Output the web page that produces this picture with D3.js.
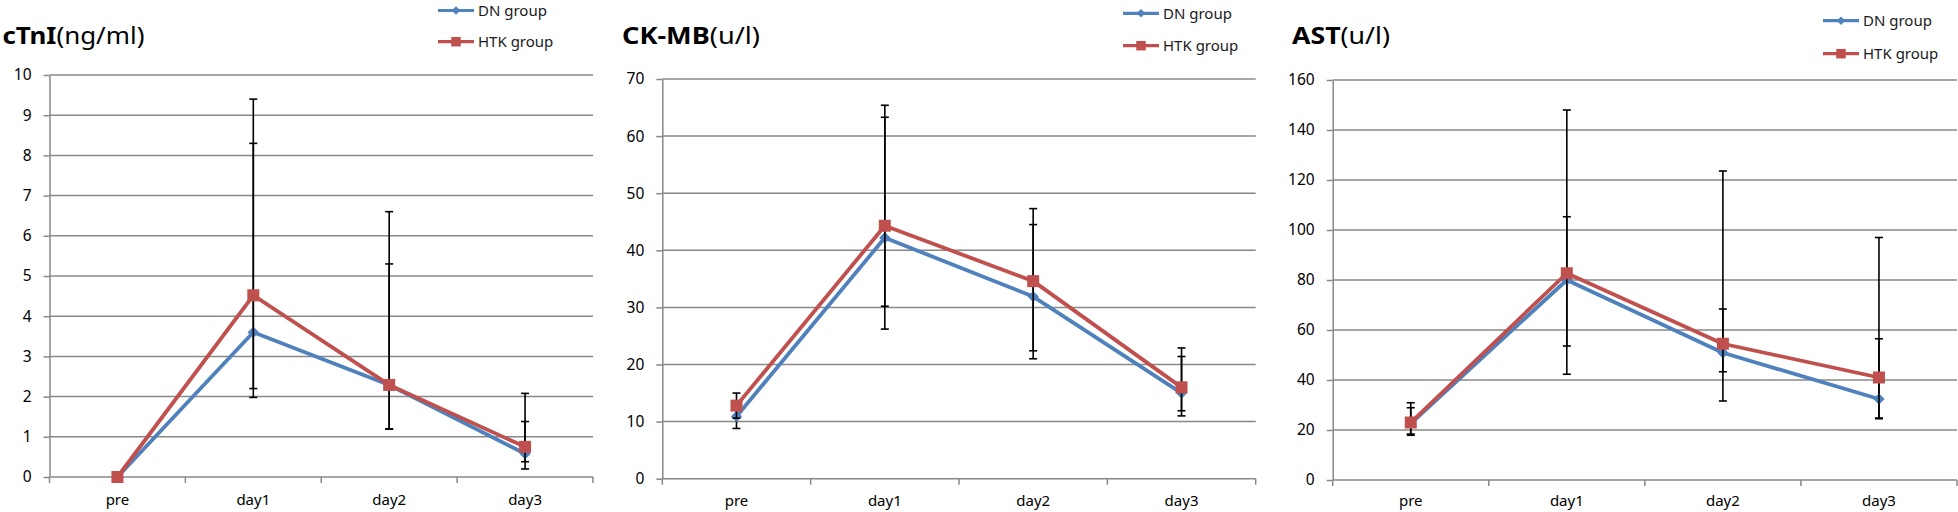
<!DOCTYPE html>
<html><head><meta charset="utf-8">
<script src="https://cdn.jsdelivr.net/npm/d3@7"></script>
<style>
body{margin:0;background:#fff}
svg{display:block}
text{font-family:"Noto Sans",sans-serif}
</style>
</head><body>
<svg id="c" width="1958" height="512"></svg>
<script>
// ---------- data ----------
const categories = ["pre", "day1", "day2", "day3"];
const seriesNames = ["DN group", "HTK group"];

// cTnI (ng/ml)
const ctniTicks = [0,1,2,3,4,5,6,7,8,9,10];
const ctniDN  = [0, 3.6, 2.29, 0.58];
const ctniHTK = [0, 4.52, 2.29, 0.75];
const ctniDNUpper  = [null, 8.3, 5.3, 1.38];
const ctniDNLower  = [null, 2.2, 1.2, 0.38];
const ctniHTKUpper = [null, 9.4, 6.6, 2.08];
const ctniHTKLower = [null, 1.98, 1.19, 0.2];

// CK-MB (u/l)
const ckmbTicks = [0,10,20,30,40,50,60,70];
const ckmbDN  = [10.9, 42.2, 31.9, 15.0];
const ckmbHTK = [12.8, 44.3, 34.6, 16.0];
const ckmbDNUpper  = [12.9, 63.3, 44.5, 21.4];
const ckmbDNLower  = [8.8, 30.2, 22.4, 11.9];
const ckmbHTKUpper = [15.0, 65.4, 47.3, 22.9];
const ckmbHTKLower = [10.6, 26.2, 21.0, 11.0];

// AST (u/l)
const astTicks = [0,20,40,60,80,100,120,140,160];
const astDN  = [22.6, 80.0, 50.9, 32.4];
const astHTK = [23.0, 82.7, 54.5, 41.0];
const astDNUpper  = [28.9, 105.3, 68.4, 56.5];
const astDNLower  = [18.4, 53.6, 43.3, 24.5];
const astHTKUpper = [30.9, 148.0, 123.6, 97.0];
const astHTKLower = [17.9, 42.3, 31.6, 24.8];

const panels = [
  {bold:"cTnI", unit:"(ng/ml)", ticks:ctniTicks,
   series:[{v:ctniDN, up:ctniDNUpper, lo:ctniDNLower},{v:ctniHTK, up:ctniHTKUpper, lo:ctniHTKLower}]},
  {bold:"CK-MB", unit:"(u/l)", ticks:ckmbTicks,
   series:[{v:ckmbDN, up:ckmbDNUpper, lo:ckmbDNLower},{v:ckmbHTK, up:ckmbHTKUpper, lo:ckmbHTKLower}]},
  {bold:"AST", unit:"(u/l)", ticks:astTicks,
   series:[{v:astDN, up:astDNUpper, lo:astDNLower},{v:astHTK, up:astHTKUpper, lo:astHTKLower}]}
];

// ---------- layout ----------
const layout = [
  {x0:49.5,  x1:593,    yTop:75, yBot:477,   titleX:2.5,  titleW:142, legX:438,  legY:[10.5, 41.7], xPad:17},
  {x0:662.3, x1:1255.7, yTop:79, yBot:478.7, titleX:622,  titleW:138, legX:1123, legY:[13.3, 45.7], xPad:16.5},
  {x0:1332.7,x1:1957,   yTop:80, yBot:480,   titleX:1292, titleW:98,  legX:1823, legY:[20.7, 53.7], xPad:15.5}
];
const colors = ["#4F81BD", "#C0504D"];
const gridColor = "#888888";

const svg = d3.select("#c");

function marker(sel, i, big) {
  if (i === 0) {
    const side = big ? 8 : 6;
    sel.attr("d", d3.symbol(d3.symbolSquare, side*side)()).attr("fill", colors[0]);
    return "rotate(45)";
  } else {
    const side = big ? 12 : 9.5;
    sel.attr("d", d3.symbol(d3.symbolSquare, side*side)()).attr("fill", colors[1]);
    return "";
  }
}

panels.forEach((p, pi) => {
  const L = layout[pi];
  const g = svg.append("g");
  const x = d3.scaleBand().domain(categories).range([L.x0, L.x1]).padding(0);
  const cx = c => x(c) + x.bandwidth()/2;
  const y = d3.scaleLinear().domain([0, p.ticks[p.ticks.length-1]]).range([L.yBot, L.yTop]);

  // gridlines
  g.append("g").selectAll("line").data(p.ticks.filter(t => t > 0)).join("line")
    .attr("x1", L.x0).attr("x2", L.x1)
    .attr("y1", d => y(d)).attr("y2", d => y(d))
    .attr("stroke", gridColor).attr("stroke-width", 1.5);

  // y axis
  const ya = g.append("g").attr("transform", `translate(${L.x0},0)`)
    .call(d3.axisLeft(y).tickValues(p.ticks).tickSize(6).tickPadding(12).tickSizeOuter(0));
  ya.select(".domain").attr("stroke", gridColor).attr("stroke-width", 1.5);
  ya.selectAll(".tick line").attr("stroke", gridColor).attr("stroke-width", 1.5);
  ya.selectAll(".tick text").attr("font-size", 15.5).attr("fill", "#000")
    .attr("font-family", '"Noto Sans", sans-serif');

  // x axis line and boundary ticks
  g.append("line").attr("x1", L.x0).attr("x2", L.x1).attr("y1", L.yBot).attr("y2", L.yBot)
    .attr("stroke", gridColor).attr("stroke-width", 1.5);
  const bounds = categories.map(c => x(c)).concat([x.range()[1]]);
  g.append("g").selectAll("line").data(bounds).join("line")
    .attr("x1", d => d).attr("x2", d => d).attr("y1", L.yBot).attr("y2", L.yBot + 6)
    .attr("stroke", gridColor).attr("stroke-width", 1.5);
  const xa = g.append("g").attr("transform", `translate(0,${L.yBot})`)
    .call(d3.axisBottom(x).tickSize(0).tickPadding(L.xPad));
  xa.select(".domain").remove();
  xa.selectAll(".tick text").attr("font-size", 15).attr("fill", "#000")
    .attr("font-family", '"Noto Sans", sans-serif');

  // series
  const line = d3.line().x((d, i) => cx(categories[i])).y(d => y(d));
  p.series.forEach((s, si) => {
    const sg = g.append("g");
    sg.append("path").attr("d", line(s.v)).attr("fill", "none")
      .attr("stroke", colors[si]).attr("stroke-width", 3.8).attr("stroke-linejoin", "round");
    // error bars
    const eb = categories.map((c, i) => ({c, up:s.up[i], lo:s.lo[i]})).filter(d => d.up != null);
    const eg = sg.append("g").attr("stroke", "#000").attr("stroke-width", 1.6);
    eg.selectAll(".v").data(eb).join("line")
      .attr("x1", d => cx(d.c)).attr("x2", d => cx(d.c))
      .attr("y1", d => y(d.up)).attr("y2", d => y(d.lo));
    eg.selectAll(".cu").data(eb).join("line")
      .attr("x1", d => cx(d.c) - 4).attr("x2", d => cx(d.c) + 4)
      .attr("y1", d => y(d.up)).attr("y2", d => y(d.up));
    eg.selectAll(".cl").data(eb).join("line")
      .attr("x1", d => cx(d.c) - 4).attr("x2", d => cx(d.c) + 4)
      .attr("y1", d => y(d.lo)).attr("y2", d => y(d.lo));
    // markers
    s.v.forEach((v, i) => {
      const m = sg.append("path");
      const rot = marker(m, si, true);
      m.attr("transform", `translate(${cx(categories[i])},${y(v)}) ${rot}`);
    });
  });

  // title
  const t = svg.append("text").attr("font-size", 23.5).attr("fill", "#000");
  t.append("tspan").attr("font-weight", "bold").text(p.bold);
  t.append("tspan").attr("font-weight", "normal").text(p.unit);
  const w = t.node().getComputedTextLength();
  t.attr("transform", `translate(${L.titleX},44) scale(${L.titleW / w},1)`);

  // legend
  seriesNames.forEach((name, si) => {
    const ly = L.legY[si];
    const lg = svg.append("g");
    lg.append("line").attr("x1", L.legX).attr("x2", L.legX + 36).attr("y1", ly).attr("y2", ly)
      .attr("stroke", colors[si]).attr("stroke-width", 3.2);
    const m = lg.append("path");
    const rot = marker(m, si, false);
    m.attr("transform", `translate(${L.legX + 18},${ly}) ${rot}`);
    lg.append("text").attr("x", L.legX + 40).attr("y", ly).attr("dy", "0.36em")
      .attr("font-size", 15).attr("fill", "#1a1a1a").text(name);
  });
});
</script>
</body></html>
